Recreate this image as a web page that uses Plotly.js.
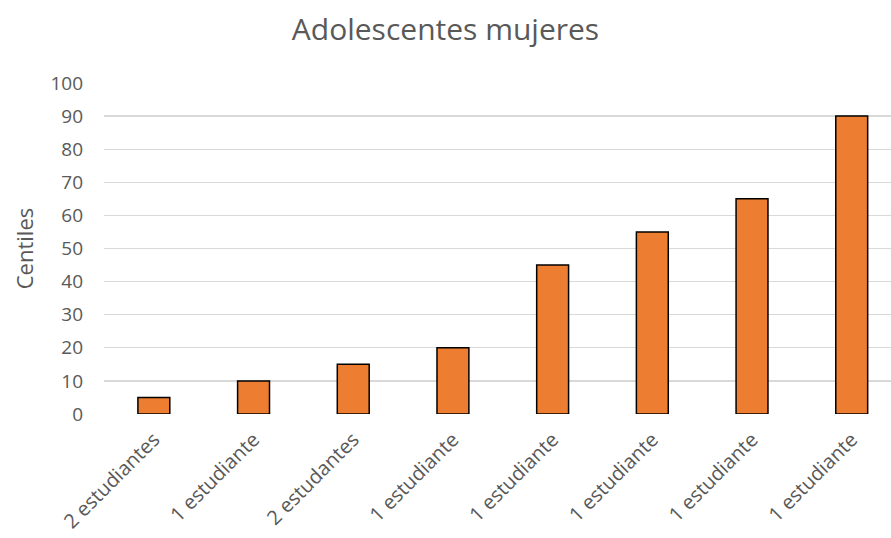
<!DOCTYPE html>
<html>
<head>
<meta charset="utf-8">
<script src="https://cdn.plot.ly/plotly-3.0.1.min.js"></script>
<style>html,body{margin:0;padding:0;background:#fff;}#chart{width:891px;height:538px;}</style>
</head>
<body>
<div id="chart"></div>
<script>
const categories = ["2 estudiantes", "1 estudiante", "2 estudantes", "1 estudiante", "1 estudiante", "1 estudiante", "1 estudiante", "1 estudiante"];
const centiles = [5, 10, 15, 20, 45, 55, 65, 90];
const yTicks = [0, 10, 20, 30, 40, 50, 60, 70, 80, 90, 100];

const positions = categories.map((c, i) => i);

const trace = {
  type: "bar",
  x: positions,
  y: centiles,
  width: 0.32,
  marker: { color: "#ED7D31", line: { color: "#000000", width: 1.5 } },
  hoverinfo: "skip"
};

const font = "'Open Sans', Lato, sans-serif";
const layout = {
  width: 891,
  height: 538,
  margin: { l: 104, r: 0, t: 83, b: 124 },
  paper_bgcolor: "#ffffff",
  plot_bgcolor: "#ffffff",
  showlegend: false,
  title: {
    text: "Adolescentes mujeres",
    font: { family: font, size: 30, color: "#595959" },
    x: 0.5, xanchor: "center",
    y: 0.945, yanchor: "middle"
  },
  xaxis: {
    range: [-0.5, 7.394],
    tickmode: "array",
    tickvals: positions,
    ticktext: categories,
    tickangle: -45,
    tickfont: { family: font, size: 20, color: "#595959" },
    showgrid: false,
    zeroline: false,
    showline: false,
    ticks: "",
    ticklabelstandoff: 9
  },
  yaxis: {
    range: [0, 100],
    tickmode: "array",
    tickvals: yTicks,
    tickfont: { family: font, size: 19, color: "#595959" },
    showgrid: true,
    gridcolor: "#D9D9D9",
    gridwidth: 1.3,
    zeroline: false,
    showline: false,
    ticks: "",
    ticklabelstandoff: 20,
    title: {
      text: "Centiles",
      font: { family: font, size: 22, color: "#595959" },
      standoff: 10
    }
  }
};

Plotly.newPlot("chart", [trace], layout, { displayModeBar: false, staticPlot: true });
</script>
</body>
</html>
